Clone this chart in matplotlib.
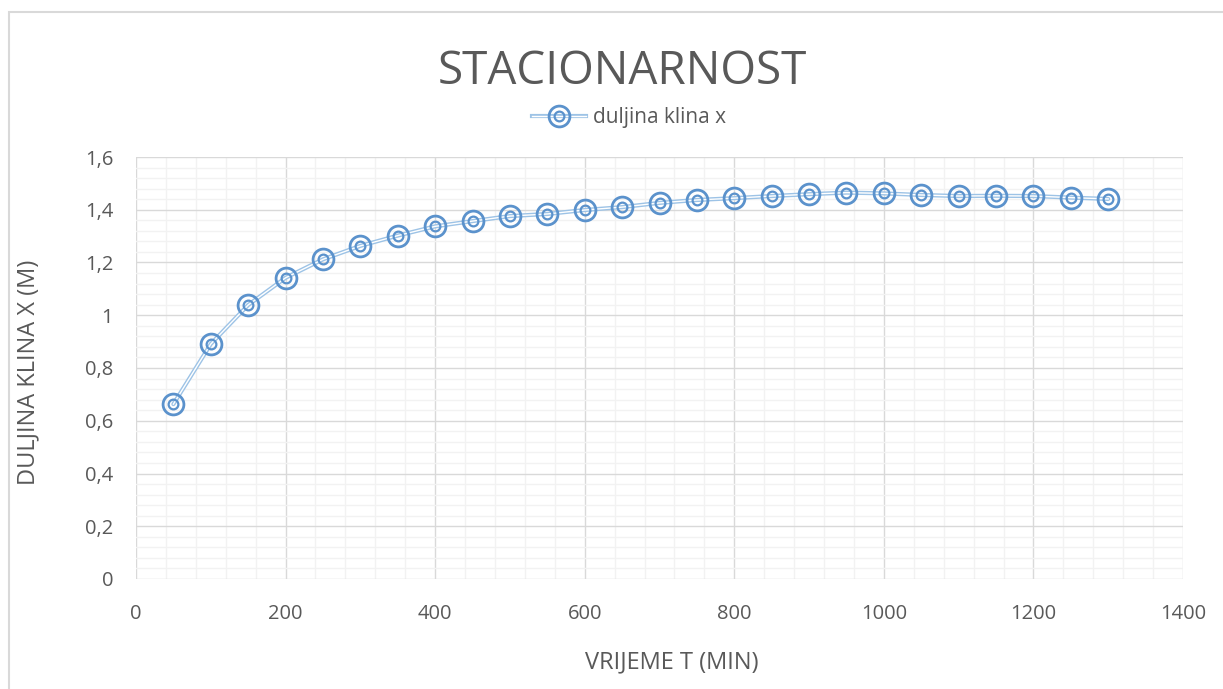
import matplotlib

matplotlib.use("Agg")
import matplotlib.pyplot as plt
from matplotlib.legend_handler import HandlerTuple
from matplotlib.lines import Line2D
from matplotlib.patches import Rectangle
from matplotlib.ticker import FuncFormatter, MultipleLocator

plt.rcParams["font.family"] = ["Open Sans", "DejaVu Sans"]

# data
time_min = [50, 100, 150, 200, 250, 300, 350, 400, 450, 500, 550, 600, 650,
            700, 750, 800, 850, 900, 950, 1000, 1050, 1100, 1150, 1200, 1250, 1300]
wedge_len = [0.663, 0.891, 1.039, 1.142, 1.212, 1.263, 1.302, 1.337, 1.357, 1.376,
             1.384, 1.399, 1.410, 1.426, 1.437, 1.444, 1.452, 1.459, 1.465, 1.462,
             1.456, 1.452, 1.453, 1.452, 1.446, 1.441]
series_name = "duljina klina x"
title = "STACIONARNOST"
x_label = "VRIJEME T (MIN)"
y_label = "DULJINA KLINA X (M)"

TEXT = "#595959"
LINE = "#9DC3E6"
MARK = "#5B92CC"

fig = plt.figure(figsize=(12.23, 6.89), dpi=100)
W, H = 1223, 689

# chart frame (thin grey border, clipped at right/bottom)
fig.patches.append(Rectangle((9 / W, -0.01), 1.02, 1 - 12 / H + 0.01,
                             transform=fig.transFigure, fill=False,
                             edgecolor="#D9D9D9", linewidth=1.5))

ax = fig.add_axes([136 / W, 1 - 579 / H, (1183 - 136) / W, (579 - 157) / H])
ax.set_xlim(0, 1400)
ax.set_ylim(0, 1.6)
ax.xaxis.set_major_locator(MultipleLocator(200))
ax.xaxis.set_minor_locator(MultipleLocator(40))
ax.yaxis.set_major_locator(MultipleLocator(0.2))
ax.yaxis.set_minor_locator(MultipleLocator(0.04))
ax.yaxis.set_major_formatter(FuncFormatter(lambda v, p: f"{v:.1f}".rstrip("0").rstrip(".").replace(".", ",")))
ax.grid(True, which="minor", color="#F2F2F2", linewidth=1.0)
ax.grid(True, which="major", color="#D9D9D9", linewidth=1.0)
ax.set_axisbelow(True)
for s in ax.spines.values():
    s.set_visible(False)
ax.tick_params(which="both", length=0, labelsize=14.5, colors=TEXT)
ax.tick_params(axis="y", pad=16.5)
ax.tick_params(axis="x", pad=18)

# double line
ax.plot(time_min, wedge_len, color=LINE, linewidth=3.0, zorder=3, solid_capstyle="round")
ax.plot(time_min, wedge_len, color="white", linewidth=1.0, zorder=3)
# double-ring markers
ax.plot(time_min, wedge_len, linestyle="none", marker="o", markersize=15,
        markerfacecolor="none", markeredgecolor=MARK, markeredgewidth=2.0, zorder=4)
ax.plot(time_min, wedge_len, linestyle="none", marker="o", markersize=7,
        markerfacecolor="none", markeredgecolor=MARK, markeredgewidth=1.6, zorder=4)

# axis titles placed in figure pixels
fig.text(672 / W, 1 - 662 / H, x_label, ha="center", va="center", fontsize=17, color=TEXT)
fig.text(28 / W, 1 - 372 / H, y_label, ha="center", va="center", rotation=90,
         fontsize=17, color=TEXT)

fig.text(622 / W, 1 - 84 / H, title, ha="center", va="baseline", fontsize=33, color=TEXT)

h = (Line2D([], [], color=LINE, linewidth=3.0),
     Line2D([], [], color="white", linewidth=1.0),
     Line2D([], [], linestyle="none", marker="o", markersize=15, markerfacecolor="none",
            markeredgecolor=MARK, markeredgewidth=2.0),
     Line2D([], [], linestyle="none", marker="o", markersize=7, markerfacecolor="none",
            markeredgecolor=MARK, markeredgewidth=1.6))
fig.legend([h], [series_name], loc="center", bbox_to_anchor=(629 / W, 1 - 118 / H),
           frameon=False, fontsize=15, labelcolor=TEXT, handlelength=2.6,
           handletextpad=0.35, handler_map={tuple: HandlerTuple(ndivide=1)})

fig.savefig("out.png", dpi=100)
